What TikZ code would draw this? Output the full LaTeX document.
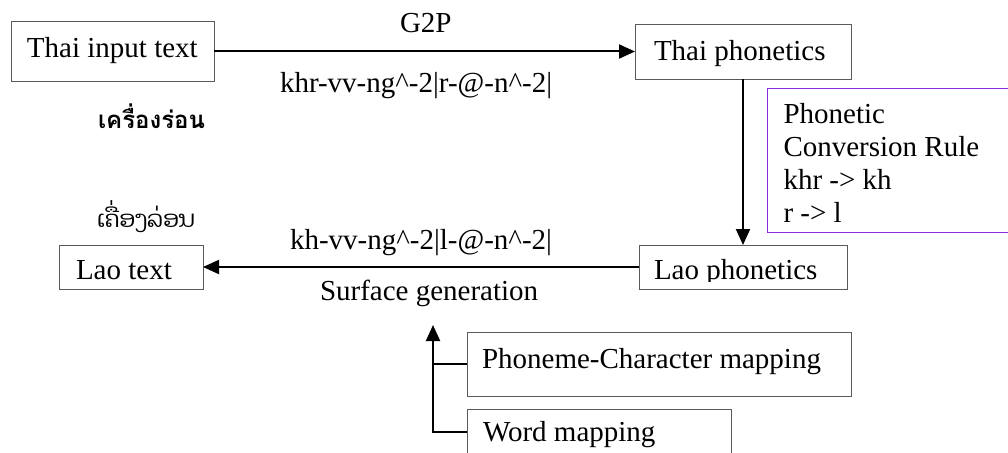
\documentclass[tikz,border=0pt]{standalone}
\usepackage{fontspec}
\setmainfont{Liberation Serif}
\newfontfamily\thaifont[Script=Thai]{Loma}
\newfontfamily\laofont[Script=Lao]{Dhyana}
\usetikzlibrary{arrows.meta}
\definecolor{boxline}{RGB}{90,90,90}
\definecolor{rulepurple}{RGB}{138,43,226}
% left-aligned box content of a fixed width, with a left pad
\newcommand{\lbox}[3][16]{\makebox[#2pt][l]{\hspace*{#1pt}#3}}
\begin{document}
\begin{tikzpicture}[x=1pt,y=-1pt,
  font=\fontsize{29}{33}\selectfont,
  box/.style={draw=boxline, line width=1pt, anchor=north west, inner sep=0pt, outer sep=0pt},
  bl/.style={text height=#1, text depth=0pt},
  rulebox/.style={draw=rulepurple, line width=1pt, anchor=north west, inner sep=0pt, outer sep=0pt},
  plain/.style={inner sep=0pt, outer sep=0pt, anchor=base west},
  arr/.style={-{Triangle[length=16pt,width=14pt]}, line width=2pt, black},
  link/.style={line width=2pt, black}]
\useasboundingbox (0,0) rectangle (1008,452);
\clip (0,0) rectangle (1008,452);

% boxes
\node[box, bl=11pt, minimum height=59pt] (tin) at (11,22) {\lbox{203}{Thai input text}};
\node[box, bl=16pt, minimum height=54pt] (tph) at (635,25) {\lbox[19]{216}{Thai phonetics}};
\node[box, bl=24pt, minimum height=44pt] (lao) at (59,245) {\lbox[17]{144}{Lao text}};
\begin{scope}
  \clip (639,245) rectangle (847,281);
  \node[box, draw=none, bl=25pt, minimum height=44pt] (lph) at (639,245) {\lbox[15]{208}{Lao phonetics}};
\end{scope}
\draw[boxline, line width=1pt] (lph.north west) rectangle (lph.south east);
\node[box, bl=8pt, minimum height=64pt] (pcm) at (467,332) {\lbox[15]{384}{Phoneme-Character mapping}};
\node[box, bl=18pt, minimum height=46pt] (wm) at (467,409) {\lbox[16]{264}{Word mapping}};
\node[rulebox, minimum width=245pt, minimum height=144pt] (pcr) at (767,88)
  {\parbox{212pt}{\rule{0pt}{25pt}Phonetic\\Conversion Rule\\khr -> kh\\r -> l}};

% labels
\node[plain] (g2p) at (400,33) {G2P};
\node[plain] (thphon) at (280,92) {khr-vv-ng\textasciicircum-2|r-@-n\textasciicircum-2|};
\node[plain] (thword) at (98,128) {\thaifont\bfseries\fontsize{24}{28}\selectfont เครื่องร่อน};
\node[plain] (laoword) at (97,227) {\laofont\fontsize{23}{27}\selectfont ເຄື່ອງລ່ອນ};
\node[plain] (laophon) at (290,249) {kh-vv-ng\textasciicircum-2|l-@-n\textasciicircum-2|};
\node[plain] (sgen) at (320,300) {Surface generation};

% connectors
\coordinate (sgin) at (433,325);
\draw[arr] (tin.east) -- (tin.east -| tph.west);
\draw[arr] (tph.south) -- (lph.north);
\draw[arr] (lph.west) -- (lph.west -| lao.east);
\draw[arr] (wm.west) -| (sgin);
\draw[link] (pcm.west) -- (pcm.west -| sgin);
\end{tikzpicture}
\end{document}
